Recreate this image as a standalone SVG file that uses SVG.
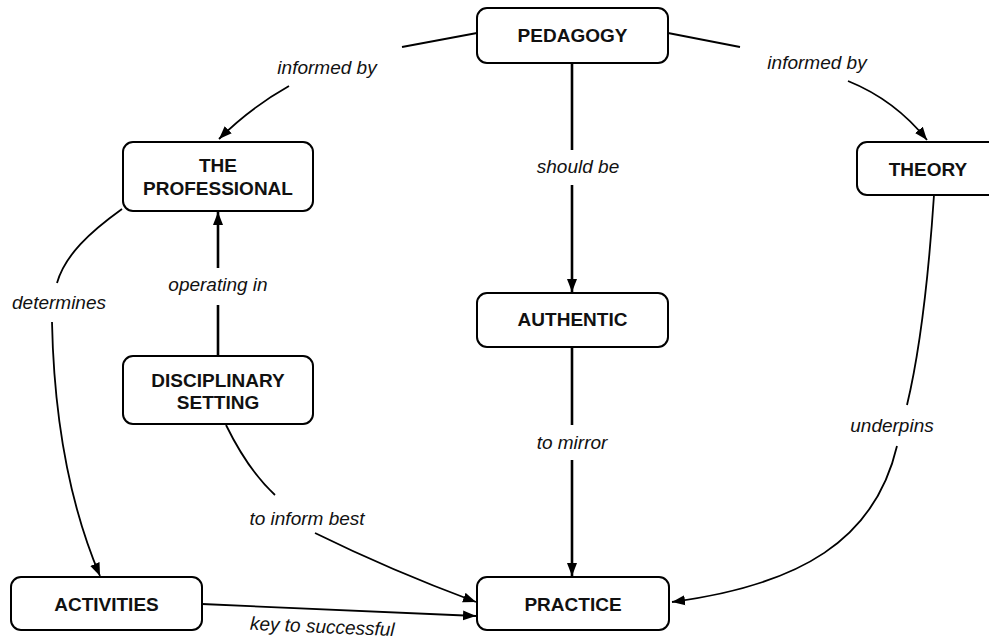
<svg xmlns="http://www.w3.org/2000/svg" width="989" height="643" viewBox="0 0 989 643">
<defs>
<style>
.box{fill:#fff;stroke:#000;stroke-width:2}
.nt{font-family:"Liberation Sans",Arial,sans-serif;font-weight:bold;font-size:19px;text-anchor:middle;fill:#111}
.lb{font-family:"Liberation Sans",Arial,sans-serif;font-style:italic;font-size:19px;text-anchor:middle;fill:#111}
.c{fill:none;stroke:#000;stroke-width:1.8}
.v{fill:none;stroke:#000;stroke-width:2.6}
</style>
<marker id="ah" markerUnits="userSpaceOnUse" markerWidth="14" markerHeight="11" refX="13" refY="5" orient="auto" viewBox="0 0 14 10">
<path d="M0,0 L13,5 L0,10 z" fill="#000"/>
</marker>
</defs>
<rect width="989" height="643" fill="#fff"/>
<g id="connectors">
<path class="c" d="M477,33 L402,47"/>
<path class="c" d="M289,86 Q250,108 219,139" marker-end="url(#ah)"/>
<path class="c" d="M668,33 L740,47"/>
<path class="c" d="M848,81 Q895,100 927,140" marker-end="url(#ah)"/>
<path class="v" d="M572,63 L572,150"/>
<path class="v" d="M572,185 L572,292" marker-end="url(#ah)"/>
<path class="v" d="M218,356 L218,305"/>
<path class="v" d="M218,268 L218,212" marker-end="url(#ah)"/>
<path class="c" d="M122,209 C90,232 65,255 57,283"/>
<path class="c" d="M52,322 Q55,470 100,576" marker-end="url(#ah)"/>
<path class="v" d="M572,347 L572,425"/>
<path class="v" d="M572,460 L572,576" marker-end="url(#ah)"/>
<path class="c" d="M934,195 Q925,330 907,405"/>
<path class="c" d="M897,446 C875,540 800,585 672,602" marker-end="url(#ah)"/>
<path class="c" d="M226,425 Q248,470 275,495"/>
<path class="c" d="M315,533 Q390,570 476,602" marker-end="url(#ah)"/>
<path class="c" d="M202,604 L476,616" stroke-width="3" marker-end="url(#ah)"/>
</g>
<g id="labels">
<text class="lb" x="327" y="74">informed by</text>
<text class="lb" x="817" y="69">informed by</text>
<text class="lb" x="578" y="173">should be</text>
<text class="lb" x="218" y="291">operating in</text>
<text class="lb" x="59" y="309">determines</text>
<text class="lb" x="572" y="449">to mirror</text>
<text class="lb" x="892" y="432">underpins</text>
<text class="lb" x="307" y="525">to inform best</text>
<text class="lb" x="322" y="633" transform="rotate(2.5 322 633)">key to successful</text>
</g>
<g id="pedagogy"><rect class="box" x="477" y="8" width="191" height="55" rx="10"/><text class="nt" x="572.5" y="42">PEDAGOGY</text></g>
<g id="professional"><rect class="box" x="123" y="142" width="190" height="69" rx="10"/><text class="nt" x="218" y="172">THE</text><text class="nt" x="218" y="195">PROFESSIONAL</text></g>
<g id="theory"><rect class="box" x="857" y="142" width="142" height="53" rx="10"/><text class="nt" x="928" y="176">THEORY</text></g>
<g id="disciplinary"><rect class="box" x="123" y="356" width="190" height="68" rx="10"/><text class="nt" x="218" y="387">DISCIPLINARY</text><text class="nt" x="218" y="409">SETTING</text></g>
<g id="authentic"><rect class="box" x="477" y="293" width="191" height="54" rx="10"/><text class="nt" x="572.5" y="326">AUTHENTIC</text></g>
<g id="practice"><rect class="box" x="477" y="577" width="192" height="53" rx="10"/><text class="nt" x="573" y="611">PRACTICE</text></g>
<g id="activities"><rect class="box" x="11" y="577" width="191" height="53" rx="10"/><text class="nt" x="106.5" y="611">ACTIVITIES</text></g>
</svg>
